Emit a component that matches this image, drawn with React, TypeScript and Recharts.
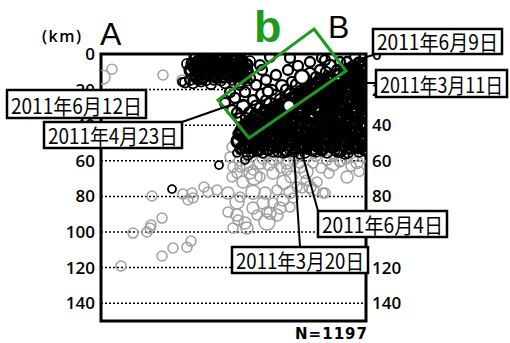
import React from 'react';
import { ScatterChart, Scatter, XAxis, YAxis, CartesianGrid, ReferenceArea } from 'recharts';

// [distance along profile A-B (km), depth (km), magnitude]
type Quake = [number, number, number];

const depthTicks = [0, 20, 40, 60, 80, 100, 120, 140];
const calloutDates = ['2011年6月9日', '2011年3月11日', '2011年6月12日', '2011年4月23日', '2011年6月4日', '2011年3月20日'];
const totalCount = 'N=1197';

const shallowGray: Quake[] = [
  [11, 8.5, 4.5], [2, 13, 5.5], [62, 11.8, 4.5], [81, 14.6, 4.5],
];

const deepGray: Quake[] = [
  [131, 52.3, 4.5], [139, 59.6, 5], [132, 63.5, 4.5], [146, 62.4, 5], [152, 65.2, 4.5], [149, 66.9, 5],
  [136, 66.9, 4.5], [131, 69.1, 4.5], [142, 71.9, 5], [159, 69.1, 4.5], [172, 66.9, 5], [186, 65.2, 4.5],
  [199, 63.5, 5], [212, 61.3, 4.5], [232, 62.4, 5], [246, 69.1, 5], [239, 60.7, 4.5], [252, 57.9, 4.5],
  [116, 76.4, 4.5], [127, 78.1, 5], [136, 83.2, 5.5], [152, 77.6, 5.5], [164, 78.1, 5], [176, 76.4, 4.5],
  [189, 77.6, 5], [201, 75.3, 4.5], [212, 76.4, 5], [224, 78.1, 4.5], [162, 83.7, 5], [172, 83.7, 4.5],
  [182, 82, 5], [192, 80.9, 4.5], [127, 88.8, 4.5], [136, 90.5, 5], [152, 86.5, 5], [166, 88.8, 4.5],
  [179, 86.5, 5], [189, 86, 4.5], [166, 94.4, 6], [144, 95, 5], [137, 93.3, 4.5], [132, 97.8, 4.5],
  [146, 97.8, 5], [156, 90.5, 4.5], [176, 90.5, 5], [129, 57.9, 4.5], [139, 63.5, 4.5], [159, 61.3, 5],
  [172, 59.6, 4.5], [186, 61.3, 5], [199, 61.3, 4.5], [226, 59.6, 4.5], [239, 59.6, 5], [262, 57.9, 4.5],
  [162, 58.4, 5], [179, 57.9, 4.5], [196, 74.7, 4.5], [209, 74.7, 5], [216, 71.9, 4.5], [222, 78.1, 4.5],
  [139, 80.4, 4.5], [169, 89.4, 5], [153, 69, 6], [205, 66, 5.5], [220, 64, 4.5], [250, 63, 4.5],
  [145, 58.5, 4.5], [168, 62, 5], [180, 64, 4.5], [193, 59.5, 4.5], [215, 57.5, 4.5], [233, 57.5, 4.5],
  [245, 59, 4.5], [256, 61, 5], [190, 69, 5], [205, 71, 4.5], [228, 67, 4.5], [258, 66, 4.5], [183, 72, 5.5],
  [51, 79.8, 4.5], [82, 78.7, 4.5], [87, 82, 4.5], [91, 78.1, 4.5], [92, 80.9, 4.5], [103, 74.7, 4.5],
  [107, 77.6, 4.5], [61, 92.2, 4.5], [50, 96.1, 4.5], [49, 97.8, 4.5], [46, 100, 4.5], [32, 100.6, 4.5],
  [90, 105.1, 4.5], [86, 108.5, 4.5], [72, 109, 4.5], [61, 113.5, 4.5], [20, 119.1, 4.5],
];

const shallowClusterA: Quake[] = [
  [95, 2, 5], [102, 1.5, 4.5], [109, 2.5, 5], [116, 2, 4.5], [123, 1.5, 5], [130, 2.5, 4.5], [137, 2, 5],
  [91, 5.5, 4.5], [98, 6, 5], [105, 5, 4.5], [112, 6, 5], [119, 5.5, 4.5], [126, 5, 5], [133, 6, 4.5], [140, 5.5, 5], [146, 6, 4.5],
  [90, 9, 5], [97, 9.5, 4.5], [104, 8.5, 5], [111, 9, 4.5], [118, 9.5, 5], [125, 8.5, 4.5], [132, 9, 5], [139, 9.5, 4.5], [145, 9, 5],
  [94, 12.5, 4.5], [101, 13, 5], [108, 12, 4.5], [115, 12.5, 5], [122, 13, 4.5], [129, 12, 5], [136, 12.5, 4.5], [143, 13, 5],
  [97.5, 3.8, 4.5], [105.5, 3.3, 5], [112.5, 4, 4.5], [119.5, 3.5, 5], [126.5, 3.8, 4.5], [133.5, 4, 5], [140.5, 3.5, 4.5],
  [94, 7.3, 5], [101, 7.5, 4.5], [108, 7, 5], [115, 7.5, 4.5], [122, 7.3, 5], [129, 7, 4.5], [136, 7.5, 5], [143, 7.3, 4.5],
  [97.5, 11, 4.5], [104.5, 10.8, 5], [111.5, 11, 4.5], [118.5, 10.8, 5], [125.5, 11, 4.5], [132.5, 10.8, 5], [139.5, 11, 4.5],
];

const shallowFringeA: Quake[] = [
  [84, 16, 4.5], [92, 16.5, 4.5], [100, 15.5, 4.5], [110, 17, 4.5], [124, 16.5, 4.5], [138, 16, 4.5], [146, 15, 4.5],
  [86, 5.6, 4.5], [81, 15.7, 4], [89, 14.6, 4.5], [147, 10.1, 4.5], [149, 4, 4.5],
  [97, 14.5, 4.5], [105, 14.8, 4.5], [113, 14.5, 4.5], [120, 15, 4.5], [131, 14.5, 4.5],
];

const upperDipZone: Quake[] = [
  [124, 27.5, 4.5], [134, 24.7, 4.5], [144, 21.4, 4.5], [131, 31.5, 4.5], [142, 29.2, 5], [152, 25.9, 4.5],
  [161, 23, 5], [171, 20.2, 4.5], [181, 18, 5], [191, 15.7, 4.5], [199, 13.5, 4.5], [209, 11.2, 5],
  [219, 9, 4.5], [229, 6.7, 5], [239, 4.5, 4.5], [139, 36, 4.5], [149, 33.2, 5], [159, 30.3, 4.5],
  [169, 28.1, 5], [179, 25.3, 4.5], [189, 23, 5], [199, 20.8, 4.5], [209, 18.5, 5], [219, 16.3, 4.5],
  [149, 39.9, 4.5], [161, 37.1, 5], [171, 34.8, 4.5], [181, 32, 5], [194, 29.2, 4.5], [204, 25.9, 5],
  [214, 23.6, 4.5], [155, 17.4, 4.5], [165, 14.6, 4.5], [175, 11.8, 4.5], [187, 9, 4.5], [197, 6.7, 4.5],
  [209, 4.5, 4.5], [221, 2.2, 4.5], [161, 9, 4.5], [149, 13.5, 4.5], [139, 17.4, 4.5], [129, 21.4, 4.5],
  [189, 2.2, 4.5], [224, 3.4, 4.5], [246, 4.5, 4.5], [252, 7.3, 4.5], [159, 6.2, 4.5], [142, 12.9, 4.5],
  [169, 1.7, 4.5], [254, 1.7, 4.5], [261, 9, 4.5],
  [136, 33, 4.5], [145, 36, 4.5], [155, 29, 4.5], [165, 26, 4.5], [175, 23, 4.5], [185, 20, 4.5],
  [195, 17, 4.5], [205, 15, 4.5], [215, 13, 4.5], [225, 10, 4.5], [156, 41, 4.5], [166, 40, 4.5],
  [154, 34, 4.5], [163, 32, 4.5], [174, 29.5, 4.5], [184, 27, 4.5], [195, 24, 4.5], [206, 21, 4.5],
  [216, 19, 4.5], [226, 14, 4.5], [236, 9, 4.5],
];

const mainCluster: Quake[] = [
  [258, 5, 4.5], [264, 6, 5],
  [247, 9, 5], [255, 8, 4.5], [263, 10, 5],
  [229, 13, 4.5], [238, 12, 5], [247, 14, 4.5], [256, 13, 5], [263, 14, 4.5],
  [216, 17, 5], [224, 16, 4.5], [233, 18, 5], [242, 17, 4.5], [251, 16, 5], [259, 18, 4.5],
  [204, 21, 4.5], [213, 20, 5], [222, 22, 4.5], [231, 21, 5], [240, 20, 4.5], [249, 22, 5], [257, 21, 4.5], [264, 20, 5],
  [192, 25, 5], [201, 24, 4.5], [210, 26, 5], [219, 25, 4.5], [228, 24, 5], [237, 26, 4.5], [246, 25, 5], [255, 24, 4.5], [263, 26, 5],
  [179, 29, 4.5], [188, 30, 5], [197, 28, 4.5], [206, 29, 5], [215, 30, 4.5], [224, 28, 5], [233, 29, 4.5], [242, 30, 5], [251, 28, 4.5], [260, 29, 5],
  [165, 33, 5], [174, 32, 4.5], [183, 34, 5], [192, 33, 4.5], [201, 32, 5], [210, 34, 4.5], [219, 33, 5], [228, 32, 4.5], [237, 34, 5], [246, 33, 4.5], [255, 32, 5], [264, 34, 4.5],
  [150, 37, 4.5], [159, 36, 5], [168, 38, 4.5], [177, 37, 5], [186, 36, 4.5], [195, 38, 5], [204, 37, 4.5], [213, 36, 5], [222, 38, 4.5], [231, 37, 5], [240, 36, 4.5], [249, 38, 5], [258, 37, 4.5],
  [143, 41, 5], [152, 40, 4.5], [161, 42, 5], [170, 41, 4.5], [179, 40, 5], [188, 42, 4.5], [197, 41, 5], [206, 40, 4.5], [215, 42, 5], [224, 41, 4.5], [233, 40, 5], [242, 42, 4.5], [251, 41, 5], [260, 40, 4.5],
  [138, 45, 4.5], [147, 44, 5], [156, 46, 4.5], [165, 45, 5], [174, 44, 4.5], [183, 46, 5], [192, 45, 4.5], [201, 44, 5], [210, 46, 4.5], [219, 45, 5], [228, 44, 4.5], [237, 46, 5], [246, 45, 4.5], [255, 44, 5], [263, 46, 4.5],
  [137, 49, 5], [146, 48, 4.5], [155, 50, 5], [164, 49, 4.5], [173, 48, 5], [182, 50, 4.5], [191, 49, 5], [200, 48, 4.5], [209, 50, 5], [218, 49, 4.5], [227, 48, 5], [236, 50, 4.5], [245, 49, 5], [254, 48, 4.5], [262, 50, 5],
  [140, 53, 4.5], [149, 52, 5], [158, 54, 4.5], [167, 53, 5], [176, 52, 4.5], [185, 54, 5], [194, 53, 4.5], [203, 52, 5], [212, 54, 4.5], [221, 53, 5], [230, 52, 4.5], [239, 54, 5], [248, 53, 4.5], [257, 52, 5], [264, 54, 4.5],
];

const mainClusterLate: Quake[] = [
  [252, 7, 4.5], [261, 7.5, 5],
  [243, 11, 4.5], [251, 11.5, 5], [259, 11, 4.5], [265, 12, 4.5],
  [220, 15, 4.5], [229, 15.5, 5], [238, 15, 4.5], [247, 15.5, 5], [256, 15, 4.5], [264, 16, 5],
  [210, 19, 5], [219, 19.5, 4.5], [228, 19, 5], [237, 19.5, 4.5], [246, 19, 5], [255, 19.5, 4.5], [263, 19, 5],
  [198, 23, 4.5], [207, 23.5, 5], [216, 23, 4.5], [225, 23.5, 5], [234, 23, 4.5], [243, 23.5, 5], [252, 23, 4.5], [261, 23.5, 5],
  [186, 27, 5], [195, 27.5, 4.5], [204, 27, 5], [213, 27.5, 4.5], [222, 27, 5], [231, 27.5, 4.5], [240, 27, 5], [249, 27.5, 4.5], [258, 27, 5], [265, 27.5, 4.5],
  [171, 31, 4.5], [180, 31.5, 5], [189, 31, 4.5], [198, 31.5, 5], [207, 31, 4.5], [216, 31.5, 5], [225, 31, 4.5], [234, 31.5, 5], [243, 31, 4.5], [252, 31.5, 5], [261, 31, 4.5],
  [156, 35, 5], [165, 35.5, 4.5], [174, 35, 5], [183, 35.5, 4.5], [192, 35, 5], [201, 35.5, 4.5], [210, 35, 5], [219, 35.5, 4.5], [228, 35, 5], [237, 35.5, 4.5], [246, 35, 5], [255, 35.5, 4.5], [263, 35, 5],
  [146, 39, 4.5], [155, 39.5, 5], [164, 39, 4.5], [173, 39.5, 5], [182, 39, 4.5], [191, 39.5, 5], [200, 39, 4.5], [209, 39.5, 5], [218, 39, 4.5], [227, 39.5, 5], [236, 39, 4.5], [245, 39.5, 5], [254, 39, 4.5], [263, 39.5, 5],
  [141, 43, 5], [150, 43.5, 4.5], [159, 43, 5], [168, 43.5, 4.5], [177, 43, 5], [186, 43.5, 4.5], [195, 43, 5], [204, 43.5, 4.5], [213, 43, 5], [222, 43.5, 4.5], [231, 43, 5], [240, 43.5, 4.5], [249, 43, 5], [258, 43.5, 4.5],
  [142, 47, 4.5], [151, 47.5, 5], [160, 47, 4.5], [169, 47.5, 5], [178, 47, 4.5], [187, 47.5, 5], [196, 47, 4.5], [205, 47.5, 5], [214, 47, 4.5], [223, 47.5, 5], [232, 47, 4.5], [241, 47.5, 5], [250, 47, 4.5], [259, 47.5, 5],
  [144, 51, 5], [153, 51.5, 4.5], [162, 51, 5], [171, 51.5, 4.5], [180, 51, 5], [189, 51.5, 4.5], [198, 51, 5], [207, 51.5, 4.5], [216, 51, 5], [225, 51.5, 4.5], [234, 51, 5], [243, 51.5, 4.5], [252, 51, 5], [261, 51.5, 4.5],
];

const blackOutline: Quake[] = [
  [139, 53.9, 4], [147, 56.7, 4.5], [156, 55, 4], [167, 54, 4.5], [177, 55.6, 4], [189, 54, 4.5],
  [199, 56.7, 4], [211, 54, 4.5], [221, 55, 4], [234, 54, 4.5], [244, 56.7, 4], [254, 52.8, 4.5],
  [259, 50, 4], [136, 55.6, 4], [144, 59.6, 4], [152, 55.6, 4], [206, 54, 4], [118, 62.4, 4], [71, 75.9, 4],
  [150, 55, 4.5], [162, 55.5, 4.5], [172, 55, 4.5], [182, 55.5, 4.5], [193, 55, 4.5], [204, 55.5, 4.5],
  [215, 55, 4.5], [226, 55.5, 4.5], [236, 55, 4.5], [247, 55.5, 4.5], [258, 55, 4.5],
];

const largeEvents: Quake[] = [
  [201, 12.9, 5.5], [167, 21, 4.5], [188, 29.2, 5],
];

const toPoints = (q: Quake[]) => q.map(([x, d, m]) => ({ x, d, m }));
const radius = (m: number) => (m - 2) * 2;

const grayEvents = toPoints([...shallowGray, ...deepGray]);
const sparseBlack = toPoints([...blackOutline, ...shallowFringeA]);
const dipBlack = toPoints(upperDipZone);
const denseBlack = toPoints([...mainCluster, ...mainClusterLate, ...shallowClusterA]);
const whiteEvents = toPoints(largeEvents);

const ring = (stroke: string, width: number, fill: string) => (props: any) => {
  const m = props?.payload?.m ?? props?.m ?? 4.5;
  return <circle cx={props.cx} cy={props.cy} r={radius(m)} fill={fill} stroke={stroke} strokeWidth={width} />;
};

const tickStyle = { fill: '#000', fontSize: 17, fontFamily: 'Open Sans', fontWeight: 600 };
const cjk = '"Noto Sans CJK JP"';

function Callout({ x, y, w, h, text }: { x: number; y: number; w: number; h: number; text: string }) {
  return (
    <g>
      <rect x={x} y={y} width={w} height={h} fill="#fff" stroke="#000" strokeWidth={2.5} />
      <text x={x + 4} y={y + h - 4} fontFamily={cjk} fontSize={21} textLength={w - 8} lengthAdjust="spacingAndGlyphs" fill="#000">
        {text}
      </text>
    </g>
  );
}

export default function App() {
  return (
    <div style={{ position: 'absolute', left: 0, top: 0, width: 510, height: 343, background: '#fff' }}>
      <ScatterChart width={510} height={343} margin={{ top: 54, right: 104, bottom: 22, left: 61 }}>
        <XAxis type="number" dataKey="x" domain={[0, 265]} hide allowDataOverflow />
        <YAxis
          yAxisId={0}
          type="number"
          dataKey="d"
          domain={[0, 150]}
          reversed
          ticks={depthTicks}
          width={40}
          axisLine={false}
          tickLine={false}
          tickSize={0}
          tickMargin={6}
          tick={tickStyle}
          allowDataOverflow
          interval={0}
        />
        <YAxis
          yAxisId="R"
          orientation="right"
          type="number"
          dataKey="d"
          domain={[0, 150]}
          reversed
          ticks={depthTicks}
          width={40}
          axisLine={false}
          tickLine={false}
          tickSize={0}
          tickMargin={6}
          tick={{ ...tickStyle, textAnchor: 'start' }}
          allowDataOverflow
          interval={0}
        />
        <CartesianGrid horizontal vertical={false} stroke="#000" strokeWidth={1.5} strokeDasharray="2 2" />
        <Scatter name="gray" data={grayEvents} shape={ring('#a0a0a0', 1.5, 'none')} isAnimationActive={false} />
        <Scatter name="sparse" data={sparseBlack} shape={ring('#000', 1.8, 'none')} isAnimationActive={false} />
        <Scatter name="dip" data={dipBlack} shape={ring('#000', 2.3, 'none')} isAnimationActive={false} />
        <Scatter name="dense" data={denseBlack} shape={ring('#000', 3.2, 'none')} isAnimationActive={false} />
        <Scatter name="large" data={whiteEvents} shape={ring('#000', 2.5, '#fff')} isAnimationActive={false} />
        <ReferenceArea x1={0} x2={265} y1={0} y2={150} fill="none" stroke="#000" strokeWidth={3} ifOverflow="visible" />
      </ScatterChart>
      <svg width={510} height={343} style={{ position: 'absolute', left: 0, top: 0, pointerEvents: 'none' }}>
        <text x={42} y={42} fontFamily="Open Sans" fontWeight={600} fontSize={16} textLength={39} fill="#000">(km)</text>
        <text x={100} y={45} fontFamily="Liberation Sans" fontSize={32} fill="#000">A</text>
        <text x={328} y={38} fontFamily="Liberation Sans" fontSize={32} fill="#000">B</text>
        <text x={254} y={42} fontFamily="Liberation Sans" fontWeight={700} fontSize={45} fill="#1e9b1e">b</text>
        <polygon points="314,29 346,71 249,138 218,100" fill="none" stroke="#1e9b1e" strokeWidth={3} />
        <g stroke="#000" strokeWidth={2}>
          <line x1={182} y1={122} x2={245} y2={100} />
          <line x1={300} y1={247} x2={294} y2={155} />
          <line x1={318} y1={211} x2={302} y2={153} />
          <line x1={360} y1={59} x2={373} y2={55} />
          <line x1={360} y1={83} x2={376} y2={83} />
        </g>
        <Callout x={373} y={29} w={129} h={25} text={calloutDates[0]} />
        <Callout x={376} y={70} w={131} h={27} text={calloutDates[1]} />
        <Callout x={7} y={90} w={139} h={28} text={calloutDates[2]} />
        <Callout x={44} y={122} w={138} h={26} text={calloutDates[3]} />
        <Callout x={318} y={211} w={129} h={26} text={calloutDates[4]} />
        <Callout x={232} y={247} w={136} h={26} text={calloutDates[5]} />
        <text x={295} y={339} fontFamily="DejaVu Sans" fontWeight={700} fontSize={15} textLength={72} fill="#000">{totalCount}</text>
      </svg>
    </div>
  );
}
